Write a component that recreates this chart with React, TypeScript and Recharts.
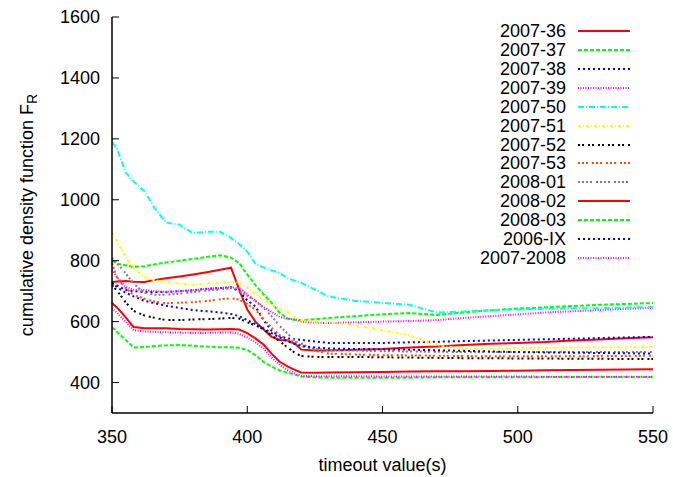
import React from 'react';
import { LineChart, Line, XAxis, YAxis, Legend } from 'recharts';

// timeout values (s) sampled along the curves
const timeouts = [350, 352, 355, 358, 362, 366, 370, 375, 380, 385, 390, 394, 397, 400, 403, 406, 409, 412, 415, 418, 420, 425, 430, 440, 450, 460, 470, 480, 490, 500, 510, 520, 530, 540, 550];

const w2007_36 = [730, 732, 733, 731, 730, 737, 742, 748, 755, 762, 770, 777, 705, 640, 600, 575, 550, 540, 538, 525, 508, 505, 505, 508, 510, 515, 518, 523, 527, 530, 533, 538, 541, 545, 549];
const w2007_37 = [800, 790, 785, 780, 782, 788, 794, 800, 806, 812, 818, 810, 792, 755, 720, 690, 662, 628, 610, 605, 605, 608, 612, 618, 624, 628, 622, 630, 637, 643, 647, 651, 655, 658, 661];
const w2007_38 = [725, 718, 704, 700, 697, 697, 697, 700, 703, 708, 710, 713, 700, 670, 650, 605, 570, 552, 545, 542, 540, 535, 530, 530, 530, 532, 534, 536, 538, 540, 542, 544, 546, 548, 550];
const w2007_39 = [770, 745, 714, 705, 704, 700, 698, 700, 703, 707, 710, 713, 710, 690, 668, 648, 632, 615, 610, 607, 600, 597, 595, 598, 600, 602, 605, 612, 618, 624, 630, 634, 638, 642, 645];
const w2007_50 = [1190, 1165, 1090, 1060, 1028, 970, 925, 918, 890, 895, 895, 875, 855, 830, 790, 778, 768, 760, 742, 733, 727, 705, 683, 668, 662, 655, 630, 633, 638, 640, 642, 643, 644, 646, 648];
const w2007_51 = [894, 860, 812, 775, 746, 735, 730, 725, 720, 725, 728, 730, 728, 712, 690, 672, 655, 642, 632, 612, 605, 600, 598, 588, 572, 555, 522, 512, 512, 513, 514, 515, 516, 516, 517];
const w2007_52 = [720, 700, 664, 635, 620, 612, 605, 605, 607, 608, 610, 612, 610, 598, 588, 575, 555, 535, 515, 495, 487, 484, 484, 484, 483, 482, 481, 480, 480, 479, 479, 478, 478, 477, 477];
const w2007_53 = [792, 740, 710, 688, 675, 665, 660, 662, 664, 668, 673, 677, 672, 658, 640, 608, 580, 555, 540, 532, 528, 505, 495, 492, 490, 489, 488, 487, 486, 486, 486, 486, 487, 487, 488];
const w2008_01 = [809, 790, 759, 725, 694, 688, 688, 692, 697, 702, 706, 710, 700, 685, 668, 645, 618, 585, 560, 535, 520, 510, 507, 505, 503, 502, 501, 500, 500, 500, 500, 500, 500, 500, 500];
const w2008_02 = [661, 645, 615, 582, 578, 578, 578, 576, 575, 574, 575, 576, 574, 562, 545, 525, 495, 468, 452, 440, 433, 432, 433, 434, 435, 436, 437, 437, 438, 439, 440, 441, 442, 443, 444];
const w2008_03 = [582, 565, 540, 515, 517, 520, 522, 523, 521, 518, 516, 516, 514, 507, 490, 468, 452, 440, 432, 425, 420, 417, 416, 416, 416, 416, 417, 417, 417, 417, 418, 418, 418, 418, 418];
const w2006_IX = [730, 712, 695, 683, 668, 660, 652, 645, 638, 634, 630, 625, 618, 605, 592, 578, 562, 548, 535, 525, 520, 515, 512, 510, 509, 508, 506, 504, 502, 500, 499, 498, 497, 496, 495];
const w2007_2008 = [645, 628, 600, 572, 568, 566, 565, 564, 563, 563, 564, 565, 560, 548, 532, 512, 482, 458, 440, 428, 422, 421, 421, 421, 420, 420, 420, 420, 420, 420, 419, 419, 419, 419, 419];

const xTicks = [350, 400, 450, 500, 550];
const yTicks = [400, 600, 800, 1000, 1200, 1400, 1600];

// gnuplot postscript line types
const series = [
  { key: 'a', name: '2007-36', values: w2007_36, color: '#ff0000', dash: undefined },
  { key: 'b', name: '2007-37', values: w2007_37, color: '#00ff00', dash: '4 2' },
  { key: 'c', name: '2007-38', values: w2007_38, color: '#0000ff', dash: '2 3' },
  { key: 'd', name: '2007-39', values: w2007_39, color: '#ff00ff', dash: '1 1.5' },
  { key: 'e', name: '2007-50', values: w2007_50, color: '#00ffff', dash: '6 2 1 2' },
  { key: 'f', name: '2007-51', values: w2007_51, color: '#ffff00', dash: '3 2 1 2' },
  { key: 'g', name: '2007-52', values: w2007_52, color: '#000000', dash: '2 2 2 4' },
  { key: 'h', name: '2007-53', values: w2007_53, color: '#ff4d00', dash: '2 2 2 2 2 4' },
  { key: 'i', name: '2008-01', values: w2008_01, color: '#808080', dash: '2 2 2 2 2 2 2 4' },
  { key: 'j', name: '2008-02', values: w2008_02, color: '#ff0000', dash: undefined },
  { key: 'k', name: '2008-03', values: w2008_03, color: '#00ff00', dash: '4 2' },
  { key: 'l', name: '2006-IX', values: w2006_IX, color: '#0000ff', dash: '2 3' },
  { key: 'm', name: '2007-2008', values: w2007_2008, color: '#ff00ff', dash: '1 1.5' },
];

const data = timeouts.map((t, i) => {
  const row: Record<string, number> = { t };
  series.forEach((s) => {
    row[s.key] = s.values[i];
  });
  return row;
});

const FONT = '"Liberation Sans", Arial, Helvetica, sans-serif';

const LegendBox = () => (
  <div style={{ fontFamily: FONT, fontSize: 18, color: '#000' }}>
    {series.map((s) => (
      <div key={s.key} style={{ display: 'flex', alignItems: 'center', height: 18.86 }}>
        <span style={{ width: 120, textAlign: 'right', lineHeight: '18px' }}>{s.name}</span>
        <svg width={52} height={6} style={{ marginLeft: 12 }}>
          <line x1={0} y1={3} x2={52} y2={3} stroke={s.color} strokeWidth={2} strokeDasharray={s.dash} />
        </svg>
      </div>
    ))}
  </div>
);

const YTitle = () => (
  <text x={28} y={215} transform="rotate(-90 28 215)" textAnchor="middle" dominantBaseline="middle"
    fontFamily={FONT} fontSize={18} fill="#000">
    cumulative density function F
    <tspan fontSize={14} dy={5}>R</tspan>
  </text>
);

export default function App() {
  const tickStyle = { fontFamily: FONT, fontSize: 18, fill: '#000' };
  return (
    <div style={{ position: 'absolute', left: 0, top: 0, width: 673, height: 477, background: '#fff' }}>
      <LineChart width={673} height={477} data={data} margin={{ top: 17, right: 20, bottom: 0, left: 0 }}>
        <XAxis xAxisId="b" dataKey="t" type="number" domain={[350, 550]} ticks={xTicks}
          tick={tickStyle} tickSize={-7} tickMargin={24} height={64}
          axisLine={{ stroke: '#000', strokeWidth: 1.5 }} tickLine={{ stroke: '#000' }}
          label={{ value: 'timeout value(s)', position: 'insideBottom', offset: 6, style: { fontFamily: FONT, fontSize: 18, fill: '#000' } }} />
        <XAxis xAxisId="top" dataKey="t" type="number" domain={[350, 550]} ticks={xTicks}
          orientation="top" height={0} tick={false} tickSize={-7}
          axisLine={{ stroke: '#000', strokeWidth: 1.5 }} tickLine={{ stroke: '#000' }} />
        <YAxis yAxisId="l" type="number" domain={[300, 1600]} ticks={yTicks} width={112}
          tick={tickStyle} tickSize={-7} tickMargin={19}
          axisLine={{ stroke: '#000', strokeWidth: 1.5 }} tickLine={{ stroke: '#000' }}
          label={() => <YTitle />} />
        <YAxis yAxisId="r" orientation="right" type="number" domain={[300, 1600]} ticks={yTicks} width={0}
          tick={false} tickSize={-7}
          axisLine={{ stroke: '#000', strokeWidth: 1.5 }} tickLine={{ stroke: '#000' }} />
        <Legend layout="vertical" verticalAlign="middle" align="center" content={() => <LegendBox />}
          wrapperStyle={{ top: 22, left: 446, width: 200, margin: 0 }} />
        {series.map((s) => (
          <Line key={s.key} xAxisId="b" yAxisId="l" type="linear" dataKey={s.key} name={s.name}
            stroke={s.color} strokeWidth={2} strokeDasharray={s.dash} dot={false}
            isAnimationActive={false} />
        ))}
      </LineChart>
    </div>
  );
}
